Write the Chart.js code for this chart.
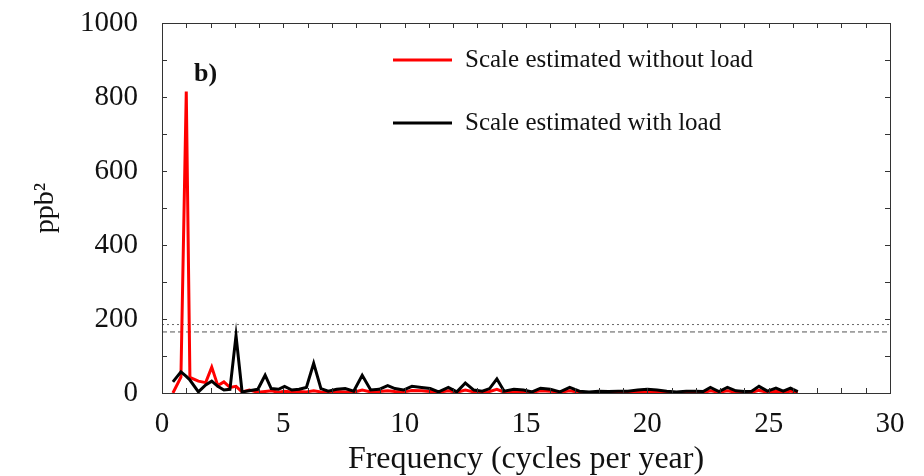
<!DOCTYPE html>
<html>
<head>
<meta charset="utf-8">
<script src="https://cdn.jsdelivr.net/npm/chart.js@4"></script>
<style>
  html, body { margin: 0; padding: 0; background: #fff; }
  #wrap { width: 924px; height: 476px; }
</style>
</head>
<body>
<div id="wrap"><canvas id="chart" width="924" height="476"></canvas></div>
<script>
// frequencies (cycles per year)
const freqs = [
  0.45, 0.78, 1.0, 1.15, 1.5, 1.8, 2.05, 2.3, 2.55, 2.8,
  3.05, 3.3, 3.6, 3.95, 4.25, 4.5, 4.8, 5.05, 5.35, 5.65,
  5.95, 6.25, 6.55, 6.85, 7.2, 7.55, 7.9, 8.25, 8.6, 8.95,
  9.3, 9.6, 9.95, 10.3, 10.7, 11.05, 11.4, 11.8, 12.15, 12.5,
  12.85, 13.2, 13.5, 13.8, 14.1, 14.5, 14.9, 15.25, 15.6, 16.0,
  16.4, 16.8, 17.2, 17.6, 18.0, 18.4, 18.8, 19.2, 19.6, 20.0,
  20.4, 20.8, 21.2, 21.6, 22.0, 22.3, 22.6, 22.95, 23.3, 23.65,
  24.0, 24.3, 24.6, 24.95, 25.3, 25.6, 25.9, 26.2
];

// ppb^2, scale estimated without load (red)
const withoutLoad = [
  0, 43, 815, 42, 32, 28, 70, 20, 30, 15,
  18, 3, 8, 2, 4, 6, 2, 5, 3, 4,
  3, 6, 3, 2, 4, 3, 2, 8, 3, 4,
  6, 4, 3, 7, 6, 4, 2, 6, 2, 8,
  3, 2, 4, 10, 2, 5, 4, 2, 6, 5,
  2, 6, 2, 1, 2, 1, 2, 2, 4, 5,
  3, 2, 1, 2, 2, 1, 6, 2, 6, 2,
  1, 2, 7, 2, 5, 2, 5, 1
];

// ppb^2, scale estimated with load (black)
const withLoad = [
  30, 57, 45, 35, 3, 22, 32, 18, 8, 10,
  155, 3, 6, 10, 48, 12, 10, 18, 8, 10,
  15, 80, 12, 5, 10, 12, 5, 48, 8, 10,
  20, 12, 8, 18, 15, 12, 3, 15, 3, 27,
  8, 5, 12, 38, 5, 10, 8, 3, 13, 10,
  3, 15, 5, 3, 5, 4, 5, 5, 8, 10,
  8, 5, 3, 5, 5, 4, 15, 4, 15, 6,
  4, 5, 18, 5, 13, 5, 13, 4
];

const seriesNames = ["Scale estimated without load", "Scale estimated with load"];
const thresholdDotted = 185;
const thresholdDashed = 165;
const xRange = [0, 30];
const yRange = [0, 1000];

const serif = "'Liberation Serif', 'DejaVu Serif', serif";

function toPoints(xs, ys) {
  return xs.map((x, i) => ({ x: x, y: ys[i] }));
}

// frame, inward ticks on all four sides, legend and panel label
const framePlugin = {
  id: "frame",
  afterDraw(chart) {
    const ctx = chart.ctx;
    const a = chart.chartArea;
    const xs = chart.scales.x, ys = chart.scales.y;
    ctx.save();
    ctx.strokeStyle = "#333";
    ctx.lineWidth = 1;
    ctx.strokeRect(a.left + 0.5, a.top + 0.5, a.right - a.left, a.bottom - a.top);
    ctx.beginPath();
    xs.ticks.forEach(t => {
      const px = Math.round(xs.getPixelForValue(t.value)) + 0.5;
      ctx.moveTo(px, a.bottom); ctx.lineTo(px, a.bottom - 5);
      ctx.moveTo(px, a.top); ctx.lineTo(px, a.top + 5);
    });
    ys.ticks.forEach(t => {
      const py = Math.round(ys.getPixelForValue(t.value)) + 0.5;
      ctx.moveTo(a.left, py); ctx.lineTo(a.left + 5, py);
      ctx.moveTo(a.right, py); ctx.lineTo(a.right - 5, py);
    });
    ctx.stroke();

    // legend
    ctx.font = "25px " + serif;
    ctx.textBaseline = "middle";
    ctx.fillStyle = "#111";
    const lx = a.left + 231;
    [0, 1].forEach(i => {
      const ds = chart.data.datasets[i];
      const ly = a.top + 37 + i * 63;
      ctx.strokeStyle = ds.borderColor;
      ctx.lineWidth = 3;
      ctx.beginPath();
      ctx.moveTo(lx, ly); ctx.lineTo(lx + 59, ly);
      ctx.stroke();
      ctx.fillText(ds.label, lx + 72, ly);
    });

    // panel label
    ctx.font = "bold 26px " + serif;
    ctx.fillText("b)", a.left + 32, a.top + 51);
    ctx.restore();
  }
};

new Chart(document.getElementById("chart"), {
  type: "line",
  data: {
    datasets: [
      {
        label: seriesNames[0],
        data: toPoints(freqs, withoutLoad),
        borderColor: "#ff0000",
        borderWidth: 3,
        pointRadius: 0,
        tension: 0,
        order: 2
      },
      {
        label: seriesNames[1],
        data: toPoints(freqs, withLoad),
        borderColor: "#000000",
        borderWidth: 3,
        pointRadius: 0,
        tension: 0,
        order: 1
      },
      {
        label: "dotted",
        data: toPoints(xRange, [thresholdDotted, thresholdDotted]),
        borderColor: "#666",
        borderWidth: 1,
        borderDash: [2, 3],
        pointRadius: 0,
        order: 3
      },
      {
        label: "dashed",
        data: toPoints(xRange, [thresholdDashed, thresholdDashed]),
        borderColor: "#555",
        borderWidth: 1,
        borderDash: [5, 3],
        pointRadius: 0,
        order: 3
      }
    ]
  },
  options: {
    responsive: false,
    animation: false,
    layout: { padding: { top: 23, right: 34, left: 0, bottom: 0 } },
    plugins: {
      legend: { display: false },
      tooltip: { enabled: false }
    },
    scales: {
      x: {
        type: "linear",
        min: xRange[0],
        max: xRange[1],
        grid: { display: false },
        border: { display: false },
        ticks: {
          stepSize: 1,
          autoSkip: false,
          maxRotation: 0,
          padding: 6,
          color: "#111",
          font: { family: serif, size: 29 },
          callback: v => (v % 5 === 0 ? String(v) : "")
        },
        title: {
          display: true,
          text: "Frequency (cycles per year)",
          color: "#111",
          font: { family: serif, size: 32, lineHeight: 1.0 },
          padding: { top: 0, bottom: 0 }
        },
        afterFit: s => { s.height = 83; s.paddingLeft = 0; s.paddingRight = 0; }
      },
      y: {
        min: yRange[0],
        max: yRange[1],
        grid: { display: false },
        border: { display: false },
        ticks: {
          stepSize: 100,
          autoSkip: false,
          padding: 16,
          color: "#111",
          font: { family: serif, size: 29 },
          callback: v => (v % 200 === 0 ? String(v) : "")
        },
        title: {
          display: true,
          text: "ppb²",
          color: "#111",
          font: { family: serif, size: 28 },
          padding: { top: 29, bottom: 0 }
        },
        afterFit: s => { s.width = 162; s.paddingTop = 0; s.paddingBottom = 0; }
      }
    }
  },
  plugins: [framePlugin]
});
</script>
</body>
</html>
